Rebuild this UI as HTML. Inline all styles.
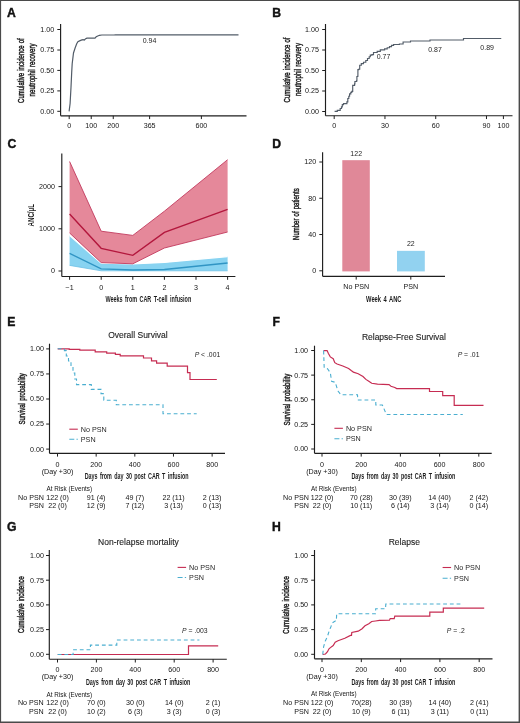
<!DOCTYPE html><html><head><meta charset="utf-8"><style>html,body{margin:0;padding:0;background:#fff;}svg{display:block;}text{font-family:"Liberation Sans", sans-serif;}</style></head><body>
<svg width="520" height="723" viewBox="0 0 520 723" style="will-change:transform">
<rect x="0" y="0" width="520" height="723" fill="#fff"/>
<text x="7.00" y="17.30" font-size="12.2" font-weight="bold" fill="#111" stroke="#111" stroke-width="0.4">A</text>
<line x1="60.60" y1="24.00" x2="60.60" y2="115.80" stroke="#1e1e1e" stroke-width="1.15"/>
<line x1="57.30" y1="29.50" x2="60.60" y2="29.50" stroke="#1e1e1e" stroke-width="1.0"/>
<text x="0" y="0" transform="translate(54.20 31.92) scale(1.06 1)" font-size="6.75" text-anchor="end" fill="#151515">1.00</text>
<line x1="57.30" y1="50.00" x2="60.60" y2="50.00" stroke="#1e1e1e" stroke-width="1.0"/>
<text x="0" y="0" transform="translate(54.20 52.42) scale(1.06 1)" font-size="6.75" text-anchor="end" fill="#151515">0.75</text>
<line x1="57.30" y1="70.40" x2="60.60" y2="70.40" stroke="#1e1e1e" stroke-width="1.0"/>
<text x="0" y="0" transform="translate(54.20 72.82) scale(1.06 1)" font-size="6.75" text-anchor="end" fill="#151515">0.50</text>
<line x1="57.30" y1="90.90" x2="60.60" y2="90.90" stroke="#1e1e1e" stroke-width="1.0"/>
<text x="0" y="0" transform="translate(54.20 93.32) scale(1.06 1)" font-size="6.75" text-anchor="end" fill="#151515">0.25</text>
<line x1="57.30" y1="111.30" x2="60.60" y2="111.30" stroke="#1e1e1e" stroke-width="1.0"/>
<text x="0" y="0" transform="translate(54.20 113.72) scale(1.06 1)" font-size="6.75" text-anchor="end" fill="#151515">0.00</text>
<line x1="60.60" y1="115.80" x2="246.50" y2="115.80" stroke="#1e1e1e" stroke-width="1.15"/>
<line x1="69.20" y1="115.80" x2="69.20" y2="119.10" stroke="#1e1e1e" stroke-width="1.0"/>
<text x="0" y="0" transform="translate(69.20 127.82) scale(1.06 1)" font-size="6.75" text-anchor="middle" fill="#151515">0</text>
<line x1="91.23" y1="115.80" x2="91.23" y2="119.10" stroke="#1e1e1e" stroke-width="1.0"/>
<text x="0" y="0" transform="translate(91.23 127.82) scale(1.06 1)" font-size="6.75" text-anchor="middle" fill="#151515">100</text>
<line x1="113.26" y1="115.80" x2="113.26" y2="119.10" stroke="#1e1e1e" stroke-width="1.0"/>
<text x="0" y="0" transform="translate(113.26 127.82) scale(1.06 1)" font-size="6.75" text-anchor="middle" fill="#151515">200</text>
<line x1="149.61" y1="115.80" x2="149.61" y2="119.10" stroke="#1e1e1e" stroke-width="1.0"/>
<text x="0" y="0" transform="translate(149.61 127.82) scale(1.06 1)" font-size="6.75" text-anchor="middle" fill="#151515">365</text>
<line x1="201.38" y1="115.80" x2="201.38" y2="119.10" stroke="#1e1e1e" stroke-width="1.0"/>
<text x="0" y="0" transform="translate(201.38 127.82) scale(1.06 1)" font-size="6.75" text-anchor="middle" fill="#151515">600</text>
<text x="0" y="0" transform="translate(24.40 70.60) rotate(-90) scale(0.6818 1)" font-size="8.8" text-anchor="middle" fill="#1c1c1c" word-spacing="0.73" stroke="#1c1c1c" stroke-width="0.440" paint-order="stroke">Cumulative incidence of</text>
<text x="0" y="0" transform="translate(35.00 69.90) rotate(-90) scale(0.7028 1)" font-size="8.8" text-anchor="middle" fill="#1c1c1c" word-spacing="0.71" stroke="#1c1c1c" stroke-width="0.427" paint-order="stroke">neutrophil recovery</text>
<path d="M69.10 111.30 L70.10 103.50 L71.00 87.30 L71.70 72.30 L72.20 63.60 L73.50 53.00 L75.10 48.00 L76.70 43.70 L77.90 41.60 L80.10 40.60 L81.90 39.90 L83.20 39.70 L84.40 40.00 L85.70 38.70 L86.90 38.10 L95.00 38.10 L96.20 36.80 L99.40 35.30 L101.90 35.00 L114.00 35.00 L115.50 34.80 L238.50 34.80" fill="none" stroke="#525c68" stroke-width="1.2" stroke-linejoin="miter"/>
<text x="0" y="0" transform="translate(149.50 42.76) scale(1.06 1)" font-size="6.6" text-anchor="middle" fill="#1f1f1f">0.94</text>
<text x="272.30" y="17.30" font-size="12.2" font-weight="bold" fill="#111" stroke="#111" stroke-width="0.4">B</text>
<line x1="325.50" y1="24.00" x2="325.50" y2="115.75" stroke="#1e1e1e" stroke-width="1.15"/>
<line x1="322.20" y1="29.50" x2="325.50" y2="29.50" stroke="#1e1e1e" stroke-width="1.0"/>
<text x="0" y="0" transform="translate(318.90 31.92) scale(1.06 1)" font-size="6.75" text-anchor="end" fill="#151515">1.00</text>
<line x1="322.20" y1="50.00" x2="325.50" y2="50.00" stroke="#1e1e1e" stroke-width="1.0"/>
<text x="0" y="0" transform="translate(318.90 52.42) scale(1.06 1)" font-size="6.75" text-anchor="end" fill="#151515">0.75</text>
<line x1="322.20" y1="70.50" x2="325.50" y2="70.50" stroke="#1e1e1e" stroke-width="1.0"/>
<text x="0" y="0" transform="translate(318.90 72.92) scale(1.06 1)" font-size="6.75" text-anchor="end" fill="#151515">0.50</text>
<line x1="322.20" y1="91.00" x2="325.50" y2="91.00" stroke="#1e1e1e" stroke-width="1.0"/>
<text x="0" y="0" transform="translate(318.90 93.42) scale(1.06 1)" font-size="6.75" text-anchor="end" fill="#151515">0.25</text>
<line x1="322.20" y1="111.50" x2="325.50" y2="111.50" stroke="#1e1e1e" stroke-width="1.0"/>
<text x="0" y="0" transform="translate(318.90 113.92) scale(1.06 1)" font-size="6.75" text-anchor="end" fill="#151515">0.00</text>
<line x1="325.50" y1="115.75" x2="512.50" y2="115.75" stroke="#1e1e1e" stroke-width="1.15"/>
<line x1="334.20" y1="115.75" x2="334.20" y2="119.05" stroke="#1e1e1e" stroke-width="1.0"/>
<text x="0" y="0" transform="translate(334.20 127.82) scale(1.06 1)" font-size="6.75" text-anchor="middle" fill="#151515">0</text>
<line x1="384.96" y1="115.75" x2="384.96" y2="119.05" stroke="#1e1e1e" stroke-width="1.0"/>
<text x="0" y="0" transform="translate(384.96 127.82) scale(1.06 1)" font-size="6.75" text-anchor="middle" fill="#151515">30</text>
<line x1="435.72" y1="115.75" x2="435.72" y2="119.05" stroke="#1e1e1e" stroke-width="1.0"/>
<text x="0" y="0" transform="translate(435.72 127.82) scale(1.06 1)" font-size="6.75" text-anchor="middle" fill="#151515">60</text>
<line x1="486.48" y1="115.75" x2="486.48" y2="119.05" stroke="#1e1e1e" stroke-width="1.0"/>
<text x="0" y="0" transform="translate(486.48 127.82) scale(1.06 1)" font-size="6.75" text-anchor="middle" fill="#151515">90</text>
<line x1="503.40" y1="115.75" x2="503.40" y2="119.05" stroke="#1e1e1e" stroke-width="1.0"/>
<text x="0" y="0" transform="translate(503.40 127.82) scale(1.06 1)" font-size="6.75" text-anchor="middle" fill="#151515">100</text>
<text x="0" y="0" transform="translate(290.00 70.00) rotate(-90) scale(0.6850 1)" font-size="8.8" text-anchor="middle" fill="#1c1c1c" word-spacing="0.73" stroke="#1c1c1c" stroke-width="0.438" paint-order="stroke">Cumulative incidence of</text>
<text x="0" y="0" transform="translate(300.60 69.50) rotate(-90) scale(0.7028 1)" font-size="8.8" text-anchor="middle" fill="#1c1c1c" word-spacing="0.71" stroke="#1c1c1c" stroke-width="0.427" paint-order="stroke">neutrophil recovery</text>
<path d="M334.60 111.40 L337.30 111.40 L337.30 110.40 L339.60 110.40 L340.20 110.40 L340.20 108.50 L341.50 108.50 L341.50 106.90 L342.30 106.90 L342.30 104.60 L343.50 104.60 L343.50 103.60 L346.90 103.60 L346.90 101.90 L347.80 101.90 L347.80 98.50 L348.80 98.50 L348.80 96.20 L349.60 96.20 L349.60 93.80 L350.80 93.80 L350.80 92.30 L351.80 92.30 L351.80 91.30 L352.70 91.30 L352.70 85.40 L354.60 85.40 L354.60 83.80 L354.90 83.80 L354.90 81.50 L356.50 81.50 L356.50 80.80 L356.90 80.80 L356.90 76.50 L357.70 76.50 L357.70 76.20 L357.90 76.20 L357.90 69.60 L358.60 69.60 L358.60 69.20 L359.70 69.20 L359.70 65.20 L361.30 65.20 L361.30 63.60 L363.50 63.60 L363.50 62.20 L365.80 62.20 L365.80 60.50 L367.50 60.50 L367.50 58.50 L369.20 58.50 L369.20 56.70 L370.30 56.70 L370.30 55.10 L371.90 55.10 L371.90 54.60 L373.50 54.60 L373.50 52.50 L377.20 52.50 L377.20 51.40 L380.30 51.40 L380.30 49.80 L384.60 49.80 L384.60 48.80 L387.20 48.80 L387.20 47.70 L389.50 47.70 L389.50 46.60 L391.50 46.60 L391.50 45.30 L393.60 45.30 L393.60 44.50 L399.40 44.50 L399.40 44.00 L403.10 44.00 L403.10 42.00 L409.50 42.00 L410.50 42.00 L410.50 41.00 L429.00 41.00 L430.00 41.00 L430.00 40.00 L462.00 40.00 L463.50 40.00 L463.50 38.50 L501.25 38.50" fill="none" stroke="#525c68" stroke-width="1.15" stroke-linejoin="miter"/>
<text x="0" y="0" transform="translate(383.50 58.96) scale(1.06 1)" font-size="6.6" text-anchor="middle" fill="#1f1f1f">0.77</text>
<text x="0" y="0" transform="translate(435.00 51.86) scale(1.06 1)" font-size="6.6" text-anchor="middle" fill="#1f1f1f">0.87</text>
<text x="0" y="0" transform="translate(487.10 49.86) scale(1.06 1)" font-size="6.6" text-anchor="middle" fill="#1f1f1f">0.89</text>
<text x="7.50" y="147.50" font-size="12.2" font-weight="bold" fill="#111" stroke="#111" stroke-width="0.4">C</text>
<polygon points="69.60,235.60 101.20,263.20 132.80,263.90 164.40,262.40 227.60,256.60 227.60,270.80 164.40,270.80 132.80,270.80 101.20,270.80 69.60,265.40" fill="#88d3f1"/>
<path d="M69.60 235.60 L101.20 263.20 L132.80 263.90 L164.40 262.40 L227.60 256.60" fill="none" stroke="#ffffff" stroke-width="1.2" stroke-linejoin="miter"/>
<path d="M69.60 265.40 L101.20 270.80 L132.80 270.80 L164.40 270.80 L227.60 270.80" fill="none" stroke="#6ec0e6" stroke-width="0.8" stroke-linejoin="miter"/>
<polygon points="69.60,161.50 101.20,231.20 132.80,235.40 164.40,211.20 227.60,159.70 227.60,232.00 164.40,248.00 132.80,263.80 101.20,262.60 69.60,233.00" fill="#e5889a"/>
<path d="M69.60 161.50 L101.20 231.20 L132.80 235.40 L164.40 211.20 L227.60 159.70" fill="none" stroke="#c23a5e" stroke-width="0.9" stroke-linejoin="miter"/>
<path d="M69.60 233.00 L101.20 262.60 L132.80 263.80 L164.40 248.00 L227.60 232.00" fill="none" stroke="#c23a5e" stroke-width="0.9" stroke-linejoin="miter"/>
<path d="M69.60 214.00 L101.20 248.30 L132.80 255.30 L164.40 232.40 L227.60 209.30" fill="none" stroke="#b3173d" stroke-width="1.35" stroke-linejoin="miter"/>
<path d="M69.60 253.40 L101.20 268.80 L132.80 270.00 L164.40 269.50 L227.60 263.00" fill="none" stroke="#3095c4" stroke-width="1.35" stroke-linejoin="miter"/>
<line x1="61.80" y1="153.50" x2="61.80" y2="276.50" stroke="#1e1e1e" stroke-width="1.15"/>
<line x1="58.50" y1="186.60" x2="61.80" y2="186.60" stroke="#1e1e1e" stroke-width="1.0"/>
<text x="0" y="0" transform="translate(55.00 189.02) scale(1.06 1)" font-size="6.75" text-anchor="end" fill="#151515">2000</text>
<line x1="58.50" y1="228.80" x2="61.80" y2="228.80" stroke="#1e1e1e" stroke-width="1.0"/>
<text x="0" y="0" transform="translate(55.00 231.22) scale(1.06 1)" font-size="6.75" text-anchor="end" fill="#151515">1000</text>
<line x1="58.50" y1="271.00" x2="61.80" y2="271.00" stroke="#1e1e1e" stroke-width="1.0"/>
<text x="0" y="0" transform="translate(55.00 273.42) scale(1.06 1)" font-size="6.75" text-anchor="end" fill="#151515">0</text>
<line x1="61.80" y1="276.50" x2="235.40" y2="276.50" stroke="#1e1e1e" stroke-width="1.15"/>
<line x1="69.60" y1="276.50" x2="69.60" y2="279.80" stroke="#1e1e1e" stroke-width="1.0"/>
<text x="0" y="0" transform="translate(69.60 289.72) scale(1.06 1)" font-size="6.75" text-anchor="middle" fill="#151515">−1</text>
<line x1="101.20" y1="276.50" x2="101.20" y2="279.80" stroke="#1e1e1e" stroke-width="1.0"/>
<text x="0" y="0" transform="translate(101.20 289.72) scale(1.06 1)" font-size="6.75" text-anchor="middle" fill="#151515">0</text>
<line x1="132.80" y1="276.50" x2="132.80" y2="279.80" stroke="#1e1e1e" stroke-width="1.0"/>
<text x="0" y="0" transform="translate(132.80 289.72) scale(1.06 1)" font-size="6.75" text-anchor="middle" fill="#151515">1</text>
<line x1="164.40" y1="276.50" x2="164.40" y2="279.80" stroke="#1e1e1e" stroke-width="1.0"/>
<text x="0" y="0" transform="translate(164.40 289.72) scale(1.06 1)" font-size="6.75" text-anchor="middle" fill="#151515">2</text>
<line x1="196.00" y1="276.50" x2="196.00" y2="279.80" stroke="#1e1e1e" stroke-width="1.0"/>
<text x="0" y="0" transform="translate(196.00 289.72) scale(1.06 1)" font-size="6.75" text-anchor="middle" fill="#151515">3</text>
<line x1="227.60" y1="276.50" x2="227.60" y2="279.80" stroke="#1e1e1e" stroke-width="1.0"/>
<text x="0" y="0" transform="translate(227.60 289.72) scale(1.06 1)" font-size="6.75" text-anchor="middle" fill="#151515">4</text>
<text x="0" y="0" transform="translate(148.30 301.70) scale(0.5933 1)" font-size="9.2" text-anchor="middle" fill="#1c1c1c" word-spacing="1.52" font-weight="bold">Weeks from CAR T-cell infusion</text>
<text x="0" y="0" transform="translate(33.80 215.20) rotate(-90) scale(0.7135 1)" font-size="8.6" text-anchor="middle" fill="#1c1c1c" font-weight="bold">ANC/μL</text>
<text x="272.30" y="147.50" font-size="12.2" font-weight="bold" fill="#111" stroke="#111" stroke-width="0.4">D</text>
<rect x="342.3" y="160.18" width="27.5" height="111.22" fill="#e08898"/>
<rect x="397.0" y="250.85" width="27.8" height="20.55" fill="#92d2f0"/>
<line x1="322.60" y1="152.30" x2="322.60" y2="276.30" stroke="#1e1e1e" stroke-width="1.15"/>
<line x1="319.30" y1="162.00" x2="322.60" y2="162.00" stroke="#1e1e1e" stroke-width="1.0"/>
<text x="0" y="0" transform="translate(316.20 164.41) scale(1.06 1)" font-size="6.75" text-anchor="end" fill="#151515">120</text>
<line x1="319.30" y1="198.26" x2="322.60" y2="198.26" stroke="#1e1e1e" stroke-width="1.0"/>
<text x="0" y="0" transform="translate(316.20 200.68) scale(1.06 1)" font-size="6.75" text-anchor="end" fill="#151515">80</text>
<line x1="319.30" y1="234.53" x2="322.60" y2="234.53" stroke="#1e1e1e" stroke-width="1.0"/>
<text x="0" y="0" transform="translate(316.20 236.95) scale(1.06 1)" font-size="6.75" text-anchor="end" fill="#151515">40</text>
<line x1="319.30" y1="270.80" x2="322.60" y2="270.80" stroke="#1e1e1e" stroke-width="1.0"/>
<text x="0" y="0" transform="translate(316.20 273.22) scale(1.06 1)" font-size="6.75" text-anchor="end" fill="#151515">0</text>
<line x1="322.60" y1="276.30" x2="445.00" y2="276.30" stroke="#1e1e1e" stroke-width="1.15"/>
<line x1="356.20" y1="276.30" x2="356.20" y2="279.60" stroke="#1e1e1e" stroke-width="1.0"/>
<text x="0" y="0" transform="translate(356.20 289.42) scale(1.06 1)" font-size="6.75" text-anchor="middle" fill="#151515">No PSN</text>
<line x1="410.80" y1="276.30" x2="410.80" y2="279.60" stroke="#1e1e1e" stroke-width="1.0"/>
<text x="0" y="0" transform="translate(410.80 289.42) scale(1.06 1)" font-size="6.75" text-anchor="middle" fill="#151515">PSN</text>
<text x="0" y="0" transform="translate(356.20 156.16) scale(1.06 1)" font-size="6.6" text-anchor="middle" fill="#1f1f1f">122</text>
<text x="0" y="0" transform="translate(410.80 246.26) scale(1.06 1)" font-size="6.6" text-anchor="middle" fill="#1f1f1f">22</text>
<text x="0" y="0" transform="translate(383.80 301.70) scale(0.6277 1)" font-size="9.2" text-anchor="middle" fill="#1c1c1c" word-spacing="1.43" font-weight="bold">Week 4 ANC</text>
<text x="0" y="0" transform="translate(298.50 214.10) rotate(-90) scale(0.6833 1)" font-size="8.8" text-anchor="middle" fill="#1c1c1c" word-spacing="0.73" stroke="#1c1c1c" stroke-width="0.439" paint-order="stroke">Number of patients</text>
<text x="7.30" y="326.40" font-size="12.2" font-weight="bold" fill="#111" stroke="#111" stroke-width="0.4">E</text>
<text x="108.20" y="338.00" font-size="8.5" fill="#1e1e1e" stroke="#1e1e1e" stroke-width="0.12">Overall Survival</text>
<line x1="49.50" y1="343.70" x2="49.50" y2="453.30" stroke="#1e1e1e" stroke-width="1.15"/>
<line x1="46.20" y1="348.90" x2="49.50" y2="348.90" stroke="#1e1e1e" stroke-width="1.0"/>
<text x="0" y="0" transform="translate(43.90 351.32) scale(1.06 1)" font-size="6.75" text-anchor="end" fill="#151515">1.00</text>
<line x1="46.20" y1="373.95" x2="49.50" y2="373.95" stroke="#1e1e1e" stroke-width="1.0"/>
<text x="0" y="0" transform="translate(43.90 376.37) scale(1.06 1)" font-size="6.75" text-anchor="end" fill="#151515">0.75</text>
<line x1="46.20" y1="399.00" x2="49.50" y2="399.00" stroke="#1e1e1e" stroke-width="1.0"/>
<text x="0" y="0" transform="translate(43.90 401.42) scale(1.06 1)" font-size="6.75" text-anchor="end" fill="#151515">0.50</text>
<line x1="46.20" y1="424.05" x2="49.50" y2="424.05" stroke="#1e1e1e" stroke-width="1.0"/>
<text x="0" y="0" transform="translate(43.90 426.47) scale(1.06 1)" font-size="6.75" text-anchor="end" fill="#151515">0.25</text>
<line x1="46.20" y1="449.10" x2="49.50" y2="449.10" stroke="#1e1e1e" stroke-width="1.0"/>
<text x="0" y="0" transform="translate(43.90 451.52) scale(1.06 1)" font-size="6.75" text-anchor="end" fill="#151515">0.00</text>
<line x1="49.50" y1="453.30" x2="225.00" y2="453.30" stroke="#1e1e1e" stroke-width="1.15"/>
<line x1="57.50" y1="453.30" x2="57.50" y2="456.60" stroke="#1e1e1e" stroke-width="1.0"/>
<text x="0" y="0" transform="translate(57.50 466.72) scale(1.06 1)" font-size="6.75" text-anchor="middle" fill="#151515">0</text>
<line x1="96.16" y1="453.30" x2="96.16" y2="456.60" stroke="#1e1e1e" stroke-width="1.0"/>
<text x="0" y="0" transform="translate(96.16 466.72) scale(1.06 1)" font-size="6.75" text-anchor="middle" fill="#151515">200</text>
<line x1="134.82" y1="453.30" x2="134.82" y2="456.60" stroke="#1e1e1e" stroke-width="1.0"/>
<text x="0" y="0" transform="translate(134.82 466.72) scale(1.06 1)" font-size="6.75" text-anchor="middle" fill="#151515">400</text>
<line x1="173.48" y1="453.30" x2="173.48" y2="456.60" stroke="#1e1e1e" stroke-width="1.0"/>
<text x="0" y="0" transform="translate(173.48 466.72) scale(1.06 1)" font-size="6.75" text-anchor="middle" fill="#151515">600</text>
<line x1="212.14" y1="453.30" x2="212.14" y2="456.60" stroke="#1e1e1e" stroke-width="1.0"/>
<text x="0" y="0" transform="translate(212.14 466.72) scale(1.06 1)" font-size="6.75" text-anchor="middle" fill="#151515">800</text>
<text x="0" y="0" transform="translate(57.50 474.22) scale(1.06 1)" font-size="6.75" text-anchor="middle" fill="#151515">(Day +30)</text>
<text x="0" y="0" transform="translate(136.65 478.80) scale(0.5726 1)" font-size="9.4" text-anchor="middle" fill="#1c1c1c" word-spacing="1.57" font-weight="bold">Days from day 30 post CAR T infusion</text>
<text x="0" y="0" transform="translate(24.60 398.90) rotate(-90) scale(0.6905 1)" font-size="8.8" text-anchor="middle" fill="#1c1c1c" word-spacing="0.72" stroke="#1c1c1c" stroke-width="0.434" paint-order="stroke">Survival probability</text>
<text x="0" y="0" transform="translate(46.50 491.22) scale(0.966 1)" font-size="6.6" fill="#151515">At Risk (Events)</text>
<text x="0" y="0" transform="translate(43.90 499.52) scale(1.06 1)" font-size="6.75" text-anchor="end" fill="#151515">No PSN</text>
<text x="0" y="0" transform="translate(57.50 499.52) scale(1.06 1)" font-size="6.75" text-anchor="middle" fill="#151515">122 (0)</text>
<text x="0" y="0" transform="translate(96.16 499.52) scale(1.06 1)" font-size="6.75" text-anchor="middle" fill="#151515">91 (4)</text>
<text x="0" y="0" transform="translate(134.82 499.52) scale(1.06 1)" font-size="6.75" text-anchor="middle" fill="#151515">49 (7)</text>
<text x="0" y="0" transform="translate(173.48 499.52) scale(1.06 1)" font-size="6.75" text-anchor="middle" fill="#151515">22 (11)</text>
<text x="0" y="0" transform="translate(212.14 499.52) scale(1.06 1)" font-size="6.75" text-anchor="middle" fill="#151515">2 (13)</text>
<text x="0" y="0" transform="translate(43.90 508.02) scale(1.06 1)" font-size="6.75" text-anchor="end" fill="#151515">PSN</text>
<text x="0" y="0" transform="translate(57.50 508.02) scale(1.06 1)" font-size="6.75" text-anchor="middle" fill="#151515">22 (0)</text>
<text x="0" y="0" transform="translate(96.16 508.02) scale(1.06 1)" font-size="6.75" text-anchor="middle" fill="#151515">12 (9)</text>
<text x="0" y="0" transform="translate(134.82 508.02) scale(1.06 1)" font-size="6.75" text-anchor="middle" fill="#151515">7 (12)</text>
<text x="0" y="0" transform="translate(173.48 508.02) scale(1.06 1)" font-size="6.75" text-anchor="middle" fill="#151515">3 (13)</text>
<text x="0" y="0" transform="translate(212.14 508.02) scale(1.06 1)" font-size="6.75" text-anchor="middle" fill="#151515">0 (13)</text>
<line x1="69.30" y1="429.20" x2="77.80" y2="429.20" stroke="#c62c52" stroke-width="1.1"/>
<line x1="69.30" y1="439.20" x2="77.80" y2="439.20" stroke="#4aaed0" stroke-width="1.1" stroke-dasharray="5 2.2 1.5 10"/>
<text x="0" y="0" transform="translate(80.80 431.63) scale(1.06 1)" font-size="6.8" fill="#262626">No PSN</text>
<text x="0" y="0" transform="translate(80.80 441.63) scale(1.06 1)" font-size="6.8" fill="#262626">PSN</text>
<text x="194.70" y="357.43" font-size="6.8" fill="#1f1f1f" stroke="#1f1f1f" stroke-width="0.0"><tspan font-style="italic">P</tspan> < .001</text>
<text x="272.60" y="326.40" font-size="12.2" font-weight="bold" fill="#111" stroke="#111" stroke-width="0.4">F</text>
<text x="361.90" y="340.20" font-size="8.5" fill="#1e1e1e" stroke="#1e1e1e" stroke-width="0.12">Relapse-Free Survival</text>
<line x1="314.50" y1="345.70" x2="314.50" y2="453.30" stroke="#1e1e1e" stroke-width="1.15"/>
<line x1="311.20" y1="350.50" x2="314.50" y2="350.50" stroke="#1e1e1e" stroke-width="1.0"/>
<text x="0" y="0" transform="translate(308.10 352.92) scale(1.06 1)" font-size="6.75" text-anchor="end" fill="#151515">1.00</text>
<line x1="311.20" y1="375.12" x2="314.50" y2="375.12" stroke="#1e1e1e" stroke-width="1.0"/>
<text x="0" y="0" transform="translate(308.10 377.54) scale(1.06 1)" font-size="6.75" text-anchor="end" fill="#151515">0.75</text>
<line x1="311.20" y1="399.75" x2="314.50" y2="399.75" stroke="#1e1e1e" stroke-width="1.0"/>
<text x="0" y="0" transform="translate(308.10 402.17) scale(1.06 1)" font-size="6.75" text-anchor="end" fill="#151515">0.50</text>
<line x1="311.20" y1="424.38" x2="314.50" y2="424.38" stroke="#1e1e1e" stroke-width="1.0"/>
<text x="0" y="0" transform="translate(308.10 426.79) scale(1.06 1)" font-size="6.75" text-anchor="end" fill="#151515">0.25</text>
<line x1="311.20" y1="449.00" x2="314.50" y2="449.00" stroke="#1e1e1e" stroke-width="1.0"/>
<text x="0" y="0" transform="translate(308.10 451.42) scale(1.06 1)" font-size="6.75" text-anchor="end" fill="#151515">0.00</text>
<line x1="314.50" y1="453.30" x2="491.70" y2="453.30" stroke="#1e1e1e" stroke-width="1.15"/>
<line x1="322.00" y1="453.30" x2="322.00" y2="456.60" stroke="#1e1e1e" stroke-width="1.0"/>
<text x="0" y="0" transform="translate(322.00 466.72) scale(1.06 1)" font-size="6.75" text-anchor="middle" fill="#151515">0</text>
<line x1="361.20" y1="453.30" x2="361.20" y2="456.60" stroke="#1e1e1e" stroke-width="1.0"/>
<text x="0" y="0" transform="translate(361.20 466.72) scale(1.06 1)" font-size="6.75" text-anchor="middle" fill="#151515">200</text>
<line x1="400.40" y1="453.30" x2="400.40" y2="456.60" stroke="#1e1e1e" stroke-width="1.0"/>
<text x="0" y="0" transform="translate(400.40 466.72) scale(1.06 1)" font-size="6.75" text-anchor="middle" fill="#151515">400</text>
<line x1="439.60" y1="453.30" x2="439.60" y2="456.60" stroke="#1e1e1e" stroke-width="1.0"/>
<text x="0" y="0" transform="translate(439.60 466.72) scale(1.06 1)" font-size="6.75" text-anchor="middle" fill="#151515">600</text>
<line x1="478.80" y1="453.30" x2="478.80" y2="456.60" stroke="#1e1e1e" stroke-width="1.0"/>
<text x="0" y="0" transform="translate(478.80 466.72) scale(1.06 1)" font-size="6.75" text-anchor="middle" fill="#151515">800</text>
<text x="0" y="0" transform="translate(322.00 474.22) scale(1.06 1)" font-size="6.75" text-anchor="middle" fill="#151515">(Day +30)</text>
<text x="0" y="0" transform="translate(403.35 478.80) scale(0.5726 1)" font-size="9.4" text-anchor="middle" fill="#1c1c1c" word-spacing="1.57" font-weight="bold">Days from day 30 post CAR T infusion</text>
<text x="0" y="0" transform="translate(289.60 399.60) rotate(-90) scale(0.6973 1)" font-size="8.8" text-anchor="middle" fill="#1c1c1c" word-spacing="0.72" stroke="#1c1c1c" stroke-width="0.430" paint-order="stroke">Survival probability</text>
<text x="0" y="0" transform="translate(311.00 491.22) scale(0.966 1)" font-size="6.6" fill="#151515">At Risk (Events)</text>
<text x="0" y="0" transform="translate(308.90 499.52) scale(1.06 1)" font-size="6.75" text-anchor="end" fill="#151515">No PSN</text>
<text x="0" y="0" transform="translate(322.00 499.52) scale(1.06 1)" font-size="6.75" text-anchor="middle" fill="#151515">122 (0)</text>
<text x="0" y="0" transform="translate(361.20 499.52) scale(1.06 1)" font-size="6.75" text-anchor="middle" fill="#151515">70 (28)</text>
<text x="0" y="0" transform="translate(400.40 499.52) scale(1.06 1)" font-size="6.75" text-anchor="middle" fill="#151515">30 (39)</text>
<text x="0" y="0" transform="translate(439.60 499.52) scale(1.06 1)" font-size="6.75" text-anchor="middle" fill="#151515">14 (40)</text>
<text x="0" y="0" transform="translate(478.80 499.52) scale(1.06 1)" font-size="6.75" text-anchor="middle" fill="#151515">2 (42)</text>
<text x="0" y="0" transform="translate(308.90 508.42) scale(1.06 1)" font-size="6.75" text-anchor="end" fill="#151515">PSN</text>
<text x="0" y="0" transform="translate(322.00 508.42) scale(1.06 1)" font-size="6.75" text-anchor="middle" fill="#151515">22 (0)</text>
<text x="0" y="0" transform="translate(361.20 508.42) scale(1.06 1)" font-size="6.75" text-anchor="middle" fill="#151515">10 (11)</text>
<text x="0" y="0" transform="translate(400.40 508.42) scale(1.06 1)" font-size="6.75" text-anchor="middle" fill="#151515">6 (14)</text>
<text x="0" y="0" transform="translate(439.60 508.42) scale(1.06 1)" font-size="6.75" text-anchor="middle" fill="#151515">3 (14)</text>
<text x="0" y="0" transform="translate(478.80 508.42) scale(1.06 1)" font-size="6.75" text-anchor="middle" fill="#151515">0 (14)</text>
<line x1="334.40" y1="428.30" x2="342.90" y2="428.30" stroke="#c62c52" stroke-width="1.1"/>
<line x1="334.40" y1="438.80" x2="342.90" y2="438.80" stroke="#4aaed0" stroke-width="1.1" stroke-dasharray="5 2.2 1.5 10"/>
<text x="0" y="0" transform="translate(345.90 430.73) scale(1.06 1)" font-size="6.8" fill="#262626">No PSN</text>
<text x="0" y="0" transform="translate(345.90 441.23) scale(1.06 1)" font-size="6.8" fill="#262626">PSN</text>
<text x="457.70" y="357.03" font-size="6.8" fill="#1f1f1f" stroke="#1f1f1f" stroke-width="0.0"><tspan font-style="italic">P</tspan> = .01</text>
<text x="7.00" y="530.60" font-size="12.2" font-weight="bold" fill="#111" stroke="#111" stroke-width="0.4">G</text>
<text x="98.10" y="545.00" font-size="8.5" fill="#1e1e1e" stroke="#1e1e1e" stroke-width="0.12">Non-relapse mortality</text>
<line x1="49.30" y1="550.00" x2="49.30" y2="659.20" stroke="#1e1e1e" stroke-width="1.15"/>
<line x1="46.00" y1="555.50" x2="49.30" y2="555.50" stroke="#1e1e1e" stroke-width="1.0"/>
<text x="0" y="0" transform="translate(43.90 557.92) scale(1.06 1)" font-size="6.75" text-anchor="end" fill="#151515">1.00</text>
<line x1="46.00" y1="580.20" x2="49.30" y2="580.20" stroke="#1e1e1e" stroke-width="1.0"/>
<text x="0" y="0" transform="translate(43.90 582.62) scale(1.06 1)" font-size="6.75" text-anchor="end" fill="#151515">0.75</text>
<line x1="46.00" y1="604.90" x2="49.30" y2="604.90" stroke="#1e1e1e" stroke-width="1.0"/>
<text x="0" y="0" transform="translate(43.90 607.32) scale(1.06 1)" font-size="6.75" text-anchor="end" fill="#151515">0.50</text>
<line x1="46.00" y1="629.60" x2="49.30" y2="629.60" stroke="#1e1e1e" stroke-width="1.0"/>
<text x="0" y="0" transform="translate(43.90 632.02) scale(1.06 1)" font-size="6.75" text-anchor="end" fill="#151515">0.25</text>
<line x1="46.00" y1="654.30" x2="49.30" y2="654.30" stroke="#1e1e1e" stroke-width="1.0"/>
<text x="0" y="0" transform="translate(43.90 656.72) scale(1.06 1)" font-size="6.75" text-anchor="end" fill="#151515">0.00</text>
<line x1="49.30" y1="659.20" x2="226.80" y2="659.20" stroke="#1e1e1e" stroke-width="1.15"/>
<line x1="57.50" y1="659.20" x2="57.50" y2="662.50" stroke="#1e1e1e" stroke-width="1.0"/>
<text x="0" y="0" transform="translate(57.50 671.92) scale(1.06 1)" font-size="6.75" text-anchor="middle" fill="#151515">0</text>
<line x1="96.40" y1="659.20" x2="96.40" y2="662.50" stroke="#1e1e1e" stroke-width="1.0"/>
<text x="0" y="0" transform="translate(96.40 671.92) scale(1.06 1)" font-size="6.75" text-anchor="middle" fill="#151515">200</text>
<line x1="135.30" y1="659.20" x2="135.30" y2="662.50" stroke="#1e1e1e" stroke-width="1.0"/>
<text x="0" y="0" transform="translate(135.30 671.92) scale(1.06 1)" font-size="6.75" text-anchor="middle" fill="#151515">400</text>
<line x1="174.20" y1="659.20" x2="174.20" y2="662.50" stroke="#1e1e1e" stroke-width="1.0"/>
<text x="0" y="0" transform="translate(174.20 671.92) scale(1.06 1)" font-size="6.75" text-anchor="middle" fill="#151515">600</text>
<line x1="213.10" y1="659.20" x2="213.10" y2="662.50" stroke="#1e1e1e" stroke-width="1.0"/>
<text x="0" y="0" transform="translate(213.10 671.92) scale(1.06 1)" font-size="6.75" text-anchor="middle" fill="#151515">800</text>
<text x="0" y="0" transform="translate(57.50 679.42) scale(1.06 1)" font-size="6.75" text-anchor="middle" fill="#151515">(Day +30)</text>
<text x="0" y="0" transform="translate(138.15 684.60) scale(0.5761 1)" font-size="9.4" text-anchor="middle" fill="#1c1c1c" word-spacing="1.56" font-weight="bold">Days from day 30 post CAR T infusion</text>
<text x="0" y="0" transform="translate(24.40 604.70) rotate(-90) scale(0.6731 1)" font-size="8.8" text-anchor="middle" fill="#1c1c1c" word-spacing="0.74" stroke="#1c1c1c" stroke-width="0.446" paint-order="stroke">Cumulative incidence</text>
<text x="0" y="0" transform="translate(46.50 696.62) scale(0.966 1)" font-size="6.6" fill="#151515">At Risk (Events)</text>
<text x="0" y="0" transform="translate(43.70 704.92) scale(1.06 1)" font-size="6.75" text-anchor="end" fill="#151515">No PSN</text>
<text x="0" y="0" transform="translate(57.50 704.92) scale(1.06 1)" font-size="6.75" text-anchor="middle" fill="#151515">122 (0)</text>
<text x="0" y="0" transform="translate(96.40 704.92) scale(1.06 1)" font-size="6.75" text-anchor="middle" fill="#151515">70 (0)</text>
<text x="0" y="0" transform="translate(135.30 704.92) scale(1.06 1)" font-size="6.75" text-anchor="middle" fill="#151515">30 (0)</text>
<text x="0" y="0" transform="translate(174.20 704.92) scale(1.06 1)" font-size="6.75" text-anchor="middle" fill="#151515">14 (0)</text>
<text x="0" y="0" transform="translate(213.10 704.92) scale(1.06 1)" font-size="6.75" text-anchor="middle" fill="#151515">2 (1)</text>
<text x="0" y="0" transform="translate(43.70 714.32) scale(1.06 1)" font-size="6.75" text-anchor="end" fill="#151515">PSN</text>
<text x="0" y="0" transform="translate(57.50 714.32) scale(1.06 1)" font-size="6.75" text-anchor="middle" fill="#151515">22 (0)</text>
<text x="0" y="0" transform="translate(96.40 714.32) scale(1.06 1)" font-size="6.75" text-anchor="middle" fill="#151515">10 (2)</text>
<text x="0" y="0" transform="translate(135.30 714.32) scale(1.06 1)" font-size="6.75" text-anchor="middle" fill="#151515">6 (3)</text>
<text x="0" y="0" transform="translate(174.20 714.32) scale(1.06 1)" font-size="6.75" text-anchor="middle" fill="#151515">3 (3)</text>
<text x="0" y="0" transform="translate(213.10 714.32) scale(1.06 1)" font-size="6.75" text-anchor="middle" fill="#151515">0 (3)</text>
<line x1="177.60" y1="567.40" x2="186.10" y2="567.40" stroke="#c62c52" stroke-width="1.1"/>
<line x1="177.60" y1="577.50" x2="186.10" y2="577.50" stroke="#4aaed0" stroke-width="1.1" stroke-dasharray="5 2.2 1.5 10"/>
<text x="0" y="0" transform="translate(189.10 569.83) scale(1.06 1)" font-size="6.8" fill="#262626">No PSN</text>
<text x="0" y="0" transform="translate(189.10 579.93) scale(1.06 1)" font-size="6.8" fill="#262626">PSN</text>
<text x="182.10" y="632.73" font-size="6.8" fill="#1f1f1f" stroke="#1f1f1f" stroke-width="0.0"><tspan font-style="italic">P</tspan> = .003</text>
<text x="272.00" y="530.60" font-size="12.2" font-weight="bold" fill="#111" stroke="#111" stroke-width="0.4">H</text>
<text x="388.70" y="544.80" font-size="8.5" fill="#1e1e1e" stroke="#1e1e1e" stroke-width="0.12">Relapse</text>
<line x1="314.50" y1="550.00" x2="314.50" y2="658.80" stroke="#1e1e1e" stroke-width="1.15"/>
<line x1="311.20" y1="555.50" x2="314.50" y2="555.50" stroke="#1e1e1e" stroke-width="1.0"/>
<text x="0" y="0" transform="translate(308.10 557.92) scale(1.06 1)" font-size="6.75" text-anchor="end" fill="#151515">1.00</text>
<line x1="311.20" y1="580.20" x2="314.50" y2="580.20" stroke="#1e1e1e" stroke-width="1.0"/>
<text x="0" y="0" transform="translate(308.10 582.62) scale(1.06 1)" font-size="6.75" text-anchor="end" fill="#151515">0.75</text>
<line x1="311.20" y1="604.90" x2="314.50" y2="604.90" stroke="#1e1e1e" stroke-width="1.0"/>
<text x="0" y="0" transform="translate(308.10 607.32) scale(1.06 1)" font-size="6.75" text-anchor="end" fill="#151515">0.50</text>
<line x1="311.20" y1="629.60" x2="314.50" y2="629.60" stroke="#1e1e1e" stroke-width="1.0"/>
<text x="0" y="0" transform="translate(308.10 632.02) scale(1.06 1)" font-size="6.75" text-anchor="end" fill="#151515">0.25</text>
<line x1="311.20" y1="654.30" x2="314.50" y2="654.30" stroke="#1e1e1e" stroke-width="1.0"/>
<text x="0" y="0" transform="translate(308.10 656.72) scale(1.06 1)" font-size="6.75" text-anchor="end" fill="#151515">0.00</text>
<line x1="314.50" y1="658.80" x2="492.50" y2="658.80" stroke="#1e1e1e" stroke-width="1.15"/>
<line x1="322.00" y1="658.80" x2="322.00" y2="662.10" stroke="#1e1e1e" stroke-width="1.0"/>
<text x="0" y="0" transform="translate(322.00 671.92) scale(1.06 1)" font-size="6.75" text-anchor="middle" fill="#151515">0</text>
<line x1="361.30" y1="658.80" x2="361.30" y2="662.10" stroke="#1e1e1e" stroke-width="1.0"/>
<text x="0" y="0" transform="translate(361.30 671.92) scale(1.06 1)" font-size="6.75" text-anchor="middle" fill="#151515">200</text>
<line x1="400.60" y1="658.80" x2="400.60" y2="662.10" stroke="#1e1e1e" stroke-width="1.0"/>
<text x="0" y="0" transform="translate(400.60 671.92) scale(1.06 1)" font-size="6.75" text-anchor="middle" fill="#151515">400</text>
<line x1="439.90" y1="658.80" x2="439.90" y2="662.10" stroke="#1e1e1e" stroke-width="1.0"/>
<text x="0" y="0" transform="translate(439.90 671.92) scale(1.06 1)" font-size="6.75" text-anchor="middle" fill="#151515">600</text>
<line x1="479.20" y1="658.80" x2="479.20" y2="662.10" stroke="#1e1e1e" stroke-width="1.0"/>
<text x="0" y="0" transform="translate(479.20 671.92) scale(1.06 1)" font-size="6.75" text-anchor="middle" fill="#151515">800</text>
<text x="0" y="0" transform="translate(322.00 679.42) scale(1.06 1)" font-size="6.75" text-anchor="middle" fill="#151515">(Day +30)</text>
<text x="0" y="0" transform="translate(403.35 684.60) scale(0.5726 1)" font-size="9.4" text-anchor="middle" fill="#1c1c1c" word-spacing="1.57" font-weight="bold">Days from day 30 post CAR T infusion</text>
<text x="0" y="0" transform="translate(289.40 604.90) rotate(-90) scale(0.6839 1)" font-size="8.8" text-anchor="middle" fill="#1c1c1c" word-spacing="0.73" stroke="#1c1c1c" stroke-width="0.439" paint-order="stroke">Cumulative incidence</text>
<text x="0" y="0" transform="translate(311.00 696.42) scale(0.966 1)" font-size="6.6" fill="#151515">At Risk (Events)</text>
<text x="0" y="0" transform="translate(308.90 704.92) scale(1.06 1)" font-size="6.75" text-anchor="end" fill="#151515">No PSN</text>
<text x="0" y="0" transform="translate(322.00 704.92) scale(1.06 1)" font-size="6.75" text-anchor="middle" fill="#151515">122 (0)</text>
<text x="0" y="0" transform="translate(361.30 704.92) scale(1.06 1)" font-size="6.75" text-anchor="middle" fill="#151515">70(28)</text>
<text x="0" y="0" transform="translate(400.60 704.92) scale(1.06 1)" font-size="6.75" text-anchor="middle" fill="#151515">30 (39)</text>
<text x="0" y="0" transform="translate(439.90 704.92) scale(1.06 1)" font-size="6.75" text-anchor="middle" fill="#151515">14 (40)</text>
<text x="0" y="0" transform="translate(479.20 704.92) scale(1.06 1)" font-size="6.75" text-anchor="middle" fill="#151515">2 (41)</text>
<text x="0" y="0" transform="translate(308.90 714.42) scale(1.06 1)" font-size="6.75" text-anchor="end" fill="#151515">PSN</text>
<text x="0" y="0" transform="translate(322.00 714.42) scale(1.06 1)" font-size="6.75" text-anchor="middle" fill="#151515">22 (0)</text>
<text x="0" y="0" transform="translate(361.30 714.42) scale(1.06 1)" font-size="6.75" text-anchor="middle" fill="#151515">10 (9)</text>
<text x="0" y="0" transform="translate(400.60 714.42) scale(1.06 1)" font-size="6.75" text-anchor="middle" fill="#151515">6 (11)</text>
<text x="0" y="0" transform="translate(439.90 714.42) scale(1.06 1)" font-size="6.75" text-anchor="middle" fill="#151515">3 (11)</text>
<text x="0" y="0" transform="translate(479.20 714.42) scale(1.06 1)" font-size="6.75" text-anchor="middle" fill="#151515">0 (11)</text>
<line x1="442.60" y1="567.50" x2="451.10" y2="567.50" stroke="#c62c52" stroke-width="1.1"/>
<line x1="442.60" y1="578.20" x2="451.10" y2="578.20" stroke="#4aaed0" stroke-width="1.1" stroke-dasharray="5 2.2 1.5 10"/>
<text x="0" y="0" transform="translate(454.10 569.93) scale(1.06 1)" font-size="6.8" fill="#262626">No PSN</text>
<text x="0" y="0" transform="translate(454.10 580.63) scale(1.06 1)" font-size="6.8" fill="#262626">PSN</text>
<text x="446.80" y="632.93" font-size="6.8" fill="#1f1f1f" stroke="#1f1f1f" stroke-width="0.0"><tspan font-style="italic">P</tspan> = .2</text>
<path d="M57.70 348.80 L69.20 348.80 L69.20 348.80 L69.20 349.30 L79.80 349.30 L79.80 350.20 L95.20 350.20 L95.20 351.90 L106.70 351.90 L106.70 353.10 L115.40 353.10 L115.40 354.40 L120.20 354.40 L120.20 355.80 L143.50 355.80 L143.50 358.00 L151.50 358.00 L151.50 360.80 L156.60 360.80 L156.60 363.20 L167.20 363.20 L167.20 366.20 L187.50 366.20 L187.50 372.60 L190.00 372.60 L190.00 379.50 L216.80 379.50" fill="none" stroke="#c62c52" stroke-width="1.2" stroke-linejoin="miter"/>
<path d="M57.70 348.80 L64.40 348.80 L64.40 350.60 L66.30 350.60 L66.30 356.00 L68.50 356.00 L68.50 361.00 L71.00 361.00 L71.00 367.00 L73.00 367.00 L73.00 373.00 L74.80 373.00 L74.80 379.00 L76.50 379.00 L76.50 384.60 L91.30 384.60 L91.30 389.40 L101.00 389.40 L101.00 393.60 L103.80 393.60 L103.80 400.20 L116.30 400.20 L116.30 404.80 L163.00 404.80 L163.00 413.70 L196.70 413.70" fill="none" stroke="#4aaed0" stroke-width="1.1" stroke-dasharray="3.8 2.9" stroke-linejoin="miter"/>
<path d="M323.60 350.60 L327.10 350.60 L328.40 353.50 L330.30 356.90 L333.20 358.70 L334.80 362.70 L337.10 364.00 L342.80 366.00 L348.60 368.50 L351.50 370.80 L353.40 372.10 L358.20 373.70 L363.00 376.50 L365.90 379.40 L368.80 381.30 L371.70 383.30 L377.50 384.20 L389.00 384.60 L391.00 386.20 L394.80 387.50 L396.70 388.60 L429.50 388.60 L429.50 391.50 L442.70 391.50 L442.70 395.70 L454.20 395.70 L454.20 405.40 L483.50 405.40" fill="none" stroke="#c62c52" stroke-width="1.2" stroke-linejoin="miter"/>
<path d="M323.60 350.60 L324.20 367.90 L327.50 368.80 L330.30 372.70 L331.60 381.30 L335.20 382.30 L338.00 391.00 L340.90 394.80 L357.50 394.80 L357.80 400.00 L375.80 400.00 L375.80 405.00 L382.40 405.00 L386.40 414.50 L462.80 414.50" fill="none" stroke="#4aaed0" stroke-width="1.1" stroke-dasharray="3.8 2.9" stroke-linejoin="miter"/>
<path d="M57.70 654.50 L188.50 654.50 L188.50 645.90 L218.20 645.90" fill="none" stroke="#c62c52" stroke-width="1.2" stroke-linejoin="miter"/>
<path d="M57.70 654.50 L73.10 654.50 L73.10 649.80 L90.40 649.80 L90.40 645.10 L116.80 645.10 L116.80 640.00 L199.40 640.00" fill="none" stroke="#4aaed0" stroke-width="1.1" stroke-dasharray="3.8 2.9" stroke-linejoin="miter"/>
<path d="M322.70 654.50 L325.50 654.00 L327.50 651.70 L329.00 648.80 L331.30 646.90 L333.20 645.60 L335.20 642.10 L338.00 640.80 L344.80 638.30 L350.50 635.40 L351.50 635.40 L351.80 632.50 L358.20 631.20 L362.10 628.70 L365.00 625.80 L368.80 623.80 L371.70 621.50 L375.50 621.00 L379.40 620.40 L389.50 620.20 L390.20 618.60 L394.20 618.60 L394.80 616.20 L429.80 616.20 L429.80 612.20 L443.30 612.20 L443.30 608.10 L484.20 608.10" fill="none" stroke="#c62c52" stroke-width="1.2" stroke-linejoin="miter"/>
<path d="M322.70 654.50 L323.60 646.90 L325.20 641.20 L327.50 636.30 L329.00 631.50 L330.90 626.70 L332.30 622.90 L335.20 621.00 L336.30 621.00 L336.70 613.80 L375.50 613.80 L375.70 608.80 L385.50 608.80 L385.80 604.00 L462.90 604.00" fill="none" stroke="#4aaed0" stroke-width="1.1" stroke-dasharray="3.8 2.9" stroke-linejoin="miter"/>
<rect x="0" y="0" width="520" height="1" fill="#4a4a4a"/>
<rect x="0" y="0" width="1.1" height="723" fill="#4a4a4a"/>
<rect x="518.6" y="0" width="1.4" height="723" fill="#4a4a4a"/>
<rect x="0" y="721.5" width="520" height="1.5" fill="#4a4a4a"/>
</svg></body></html>
